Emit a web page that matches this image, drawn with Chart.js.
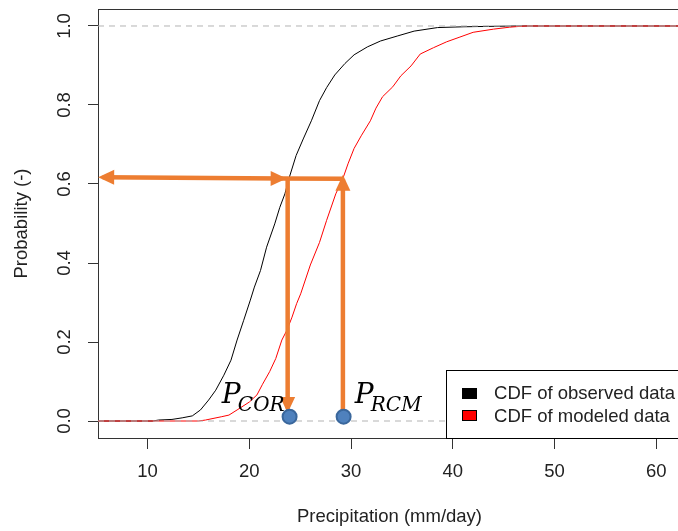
<!DOCTYPE html>
<html>
<head>
<meta charset="utf-8">
<title>CDF of observed and modeled precipitation</title>
<script src="https://cdn.jsdelivr.net/npm/chart.js@4.4.1/dist/chart.umd.min.js"></script>
<style>
  html, body { margin: 0; padding: 0; background: #fff; overflow: hidden; }
  #wrap { width: 690px; height: 531px; }
</style>
</head>
<body>
<div id="wrap"><canvas id="cdfChart" width="690" height="531"></canvas></div>
<script>
// axis limits and ticks
const xRange = [5.13, 62.43];
const yRange = [-0.043, 1.043];
const xTicks = [10, 20, 30, 40, 50, 60];
const yTicks = [0, 0.2, 0.4, 0.6, 0.8, 1.0];

// empirical CDF of observed precipitation (mm/day -> probability)
const obsX = [5.13, 10.5, 11.1, 12.4, 13.4, 14.4, 15.2, 16.0, 16.7, 17.5, 18.2, 18.8, 19.45, 20.1, 20.5,
  21.1, 21.7, 22.5, 23.0, 23.5, 23.9, 24.6, 25.3, 26.1, 26.9, 27.6, 28.4, 29.4, 30.3, 31.6,
  32.9, 34.6, 36.2, 38.5, 41.1, 43.5, 46.3, 62.43];
const obsP = [0, 0, 0.0025, 0.004, 0.008, 0.013, 0.028, 0.053, 0.078, 0.116, 0.154, 0.205, 0.255, 0.306, 0.339,
  0.381, 0.440, 0.499, 0.541, 0.575, 0.614, 0.672, 0.714, 0.760, 0.811, 0.844, 0.876, 0.905, 0.927, 0.947,
  0.962, 0.975, 0.987, 0.996, 0.998, 0.999, 1, 1];

// empirical CDF of modeled (RCM) precipitation
const modX = [5.13, 15.0, 15.7, 17.3, 18.0, 18.8, 20.0, 20.75, 21.3, 22.0, 22.6, 23.2, 23.7, 24.2, 24.65,
  25.05, 26.0, 26.9, 27.6, 28.5, 29.2, 29.7, 30.3, 31.0, 31.9, 32.45, 33.1, 34.1, 34.9, 35.9,
  36.8, 38.1, 39.4, 40.7, 42.0, 44.0, 45.6, 46.6, 47.2, 62.43];
const modP = [0, 0, 0.0025, 0.011, 0.015, 0.028, 0.048, 0.066, 0.093, 0.125, 0.158, 0.205, 0.230, 0.263, 0.297,
  0.322, 0.395, 0.452, 0.508, 0.575, 0.614, 0.651, 0.690, 0.722, 0.760, 0.792, 0.821, 0.846, 0.874, 0.899,
  0.929, 0.945, 0.960, 0.972, 0.984, 0.992, 0.997, 0.999, 1, 1];

const seriesNames = ['CDF of observed data', 'CDF of modeled data'];
const seriesColors = ['#000000', '#ff0000'];

// quantile mapping arrows: probability line, drop to P_COR, rise from P_RCM
const probLineX = [5.59, 23.23, 29.2];
const probLineP = [0.617, 0.614, 0.613];
const corArrowX = [23.77, 23.77];
const corArrowP = [0.614, 0.0316];
const rcmArrowX = [29.2, 29.2];
const rcmArrowP = [0.013, 0.612];

// mapped values on the x axis and their labels
const markerX = [23.96, 29.27];
const markerP = [0.011, 0.011];
const markerSubs = ['COR', 'RCM'];
const labelX = [17.3, 30.37];
const labelP = [0.045, 0.045];

const sansFont = "'Liberation Sans', Arial, sans-serif";
const textColor = '#222';
const orange = '#ED7D31';

const toPoints = (xs, ys) => xs.map((x, i) => ({ x: x, y: ys[i] }));

// plot frame around the chart area
const framePlugin = {
  id: 'frame',
  beforeDatasetsDraw(chart) {
    const { ctx, chartArea: ca } = chart;
    ctx.save();
    ctx.strokeStyle = '#333';
    ctx.lineWidth = 1;
    ctx.strokeRect(ca.left + 0.5, ca.top + 0.5, ca.width, ca.height);
    ctx.restore();
  }
};

// filled arrow heads at the listed point indices of a dataset
const arrowHeadPlugin = {
  id: 'arrowHeads',
  afterDatasetDraw(chart, args) {
    const ds = chart.data.datasets[args.index];
    if (!ds.heads) return;
    const pts = args.meta.data;
    const ctx = chart.ctx;
    ctx.save();
    ctx.fillStyle = ds.borderColor;
    ds.heads.forEach(i => {
      const j = i === 0 ? 1 : i - 1;
      const dx = pts[i].x - pts[j].x;
      const dy = pts[i].y - pts[j].y;
      const len = Math.hypot(dx, dy);
      const ux = dx / len, uy = dy / len;
      const tipX = pts[i].x + ux * 4.5, tipY = pts[i].y + uy * 4.5;
      const bx = tipX - ux * 16, by = tipY - uy * 16;
      ctx.beginPath();
      ctx.moveTo(tipX, tipY);
      ctx.lineTo(bx - uy * 7.5, by + ux * 7.5);
      ctx.lineTo(bx + uy * 7.5, by - ux * 7.5);
      ctx.closePath();
      ctx.fill();
    });
    ctx.restore();
  }
};

// P_COR / P_RCM labels and the legend box
const annotationPlugin = {
  id: 'annotations',
  afterDraw(chart) {
    const { ctx, chartArea: ca, scales } = chart;
    ctx.save();

    // italic math-style labels with subscripts
    ctx.fillStyle = '#000';
    ctx.textBaseline = 'alphabetic';
    ctx.textAlign = 'left';
    labelX.forEach((v, i) => {
      const px = scales.x.getPixelForValue(v);
      const py = scales.y.getPixelForValue(labelP[i]);
      ctx.font = "italic 28px 'DejaVu Serif', serif";
      ctx.fillText('P', px, py);
      ctx.font = "italic 20px 'DejaVu Serif', serif";
      ctx.fillText(markerSubs[i], px + 16, py + 8);
    });

    // legend in the bottom right corner
    ctx.font = '18.5px ' + sansFont;
    const textW = Math.max(...seriesNames.map(s => ctx.measureText(s).width));
    const w = 16 + 15 + 17 + textW + 6;
    const h = 68;
    const left = ca.right - w;
    const top = ca.bottom - h;
    ctx.fillStyle = '#fff';
    ctx.fillRect(left, top, w, h);
    ctx.strokeStyle = '#000';
    ctx.lineWidth = 1;
    ctx.strokeRect(Math.round(left) + 0.5, Math.round(top) + 0.5, w, h);
    ctx.textBaseline = 'middle';
    seriesNames.forEach((name, i) => {
      const cy = top + 23 + i * 22.8;
      ctx.fillStyle = seriesColors[i];
      ctx.fillRect(Math.round(left + 16), Math.round(cy - 5.5), 15, 11);
      ctx.strokeStyle = '#000';
      ctx.strokeRect(Math.round(left + 16) + 0.5, Math.round(cy - 5.5) + 0.5, 14, 10);
      ctx.fillStyle = textColor;
      ctx.fillText(name, left + 48, cy + 1);
    });
    ctx.restore();
  }
};

const ctx = document.getElementById('cdfChart').getContext('2d');
const cdfChart = new Chart(ctx, {
  type: 'scatter',
  data: {
    datasets: [
      {
        label: seriesNames[0],
        data: toPoints(obsX, obsP),
        showLine: true,
        borderColor: seriesColors[0],
        borderWidth: 1,
        pointRadius: 0,
        order: 6
      },
      {
        label: seriesNames[1],
        data: toPoints(modX, modP),
        showLine: true,
        borderColor: seriesColors[1],
        borderWidth: 1,
        pointRadius: 0,
        order: 5
      },
      {
        label: 'p = 0',
        data: toPoints(xRange, [0, 0]),
        showLine: true,
        borderColor: '#b3b3b3',
        borderWidth: 1,
        borderDash: [6, 5],
        pointRadius: 0,
        order: 4
      },
      {
        label: 'p = 1',
        data: toPoints(xRange, [1, 1]),
        showLine: true,
        borderColor: '#b3b3b3',
        borderWidth: 1,
        borderDash: [6, 5],
        pointRadius: 0,
        order: 4
      },
      {
        label: 'probability',
        data: toPoints(probLineX, probLineP),
        showLine: true,
        borderColor: orange,
        borderWidth: 4.5,
        pointRadius: 0,
        heads: [0, 1],
        order: 3
      },
      {
        label: 'to P_COR',
        data: toPoints(corArrowX, corArrowP),
        showLine: true,
        borderColor: orange,
        borderWidth: 4.5,
        pointRadius: 0,
        heads: [1],
        order: 2
      },
      {
        label: 'from P_RCM',
        data: toPoints(rcmArrowX, rcmArrowP),
        showLine: true,
        borderColor: orange,
        borderWidth: 4.5,
        pointRadius: 0,
        heads: [1],
        order: 2
      },
      {
        label: 'mapped values',
        data: toPoints(markerX, markerP),
        showLine: false,
        pointRadius: 7,
        pointBackgroundColor: '#4F81BD',
        pointBorderColor: '#3A679C',
        pointBorderWidth: 2,
        order: 1,
        clip: false
      }
    ]
  },
  options: {
    responsive: false,
    animation: false,
    devicePixelRatio: 1,
    layout: { padding: { left: 0, right: 4, top: 8, bottom: 0 } },
    plugins: {
      legend: { display: false },
      tooltip: { enabled: false }
    },
    scales: {
      x: {
        type: 'linear',
        min: xRange[0],
        max: xRange[1],
        afterBuildTicks: s => { s.ticks = xTicks.map(v => ({ value: v })); },
        afterFit: s => { s.height = 93; s.paddingLeft = 0; s.paddingRight = 0; },
        border: { display: false },
        grid: { drawOnChartArea: false, drawTicks: true, tickLength: 11, color: '#333', lineWidth: 1 },
        ticks: {
          color: textColor,
          font: { family: sansFont, size: 18.5 },
          padding: 12,
          minRotation: 0,
          maxRotation: 0,
          callback: v => String(v)
        },
        title: {
          display: true,
          text: 'Precipitation (mm/day)',
          color: textColor,
          font: { family: sansFont, size: 18.5 },
          padding: { top: 0, bottom: 3 }
        }
      },
      y: {
        type: 'linear',
        min: yRange[0],
        max: yRange[1],
        afterBuildTicks: s => { s.ticks = yTicks.map(v => ({ value: v })); },
        afterFit: s => { s.width = 98; s.paddingTop = 0; s.paddingBottom = 0; },
        border: { display: false },
        grid: { drawOnChartArea: false, drawTicks: true, tickLength: 10, color: '#333', lineWidth: 1 },
        ticks: {
          color: textColor,
          font: { family: sansFont, size: 18.5 },
          padding: 10,
          minRotation: 90,
          maxRotation: 90,
          crossAlign: 'center',
          callback: v => v.toFixed(1)
        },
        title: {
          display: true,
          text: 'Probability (-)',
          color: textColor,
          font: { family: sansFont, size: 18.5 },
          padding: { top: 11, bottom: 0 }
        }
      }
    }
  },
  plugins: [framePlugin, arrowHeadPlugin, annotationPlugin]
});
</script>
</body>
</html>
